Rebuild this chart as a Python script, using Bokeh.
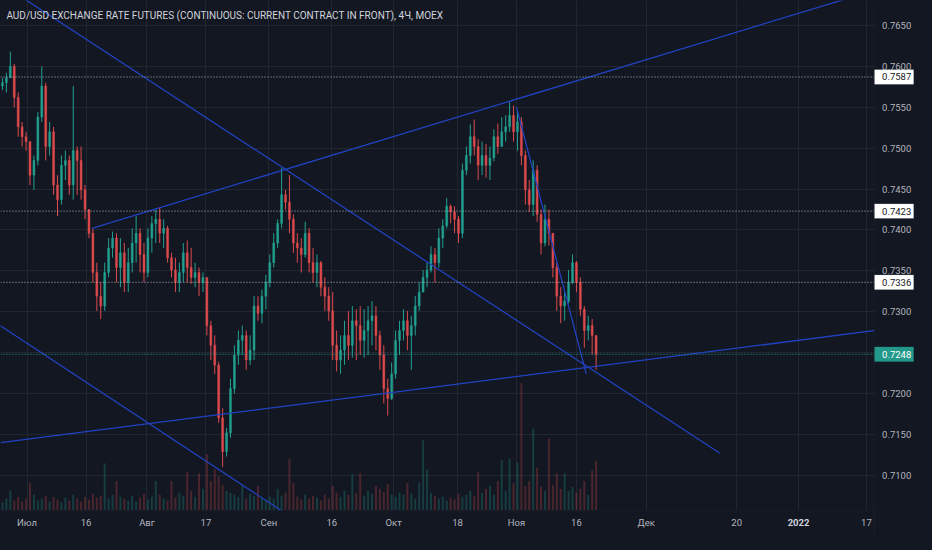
from bokeh.plotting import figure
from bokeh.models import Range1d, FixedTicker, Span, Label, ColumnDataSource, Grid, BoxAnnotation
from bokeh.embed import file_html
from bokeh.resources import INLINE

title_text = "AUD/USD EXCHANGE RATE FUTURES (CONTINUOUS: CURRENT CONTRACT IN FRONT), 4Ч, MOEX"

first_open = 0.7576
high = [
    0.7586, 0.7592, 0.7618, 0.7603, 0.7568, 0.7532, 0.7520, 0.7508, 0.7491, 0.7544,
    0.7600, 0.7580, 0.7532, 0.7526, 0.7467, 0.7491, 0.7497, 0.7491, 0.7576, 0.7502,
    0.7502, 0.7455, 0.7425, 0.7402, 0.7360, 0.7336, 0.7360, 0.7390, 0.7398, 0.7396,
    0.7390, 0.7384, 0.7378, 0.7402, 0.7417, 0.7402, 0.7384, 0.7402, 0.7417, 0.7425,
    0.7428, 0.7413, 0.7405, 0.7372, 0.7366, 0.7360, 0.7384, 0.7387, 0.7378, 0.7360,
    0.7354, 0.7348, 0.7342, 0.7289, 0.7271, 0.7239, 0.7182, 0.7158, 0.7218, 0.7259,
    0.7277, 0.7283, 0.7277, 0.7271, 0.7319, 0.7319, 0.7327, 0.7345, 0.7370, 0.7396,
    0.7413, 0.7476, 0.7449, 0.7467, 0.7419, 0.7396, 0.7390, 0.7410, 0.7402, 0.7378,
    0.7370, 0.7362, 0.7342, 0.7330, 0.7324, 0.7277, 0.7271, 0.7289, 0.7301, 0.7307,
    0.7303, 0.7307, 0.7303, 0.7307, 0.7313, 0.7307, 0.7277, 0.7259, 0.7218, 0.7238,
    0.7277, 0.7289, 0.7303, 0.7301, 0.7295, 0.7319, 0.7336, 0.7351, 0.7360, 0.7380,
    0.7378, 0.7402, 0.7413, 0.7439, 0.7431, 0.7429, 0.7417, 0.7481, 0.7502, 0.7529,
    0.7535, 0.7511, 0.7508, 0.7505, 0.7502, 0.7523, 0.7530, 0.7538, 0.7540, 0.7556,
    0.7552, 0.7544, 0.7538, 0.7497, 0.7461, 0.7485, 0.7479, 0.7425, 0.7431, 0.7425,
    0.7396, 0.7360, 0.7330, 0.7324, 0.7351, 0.7370, 0.7362, 0.7342, 0.7307, 0.7295,
    0.7291, 0.7271,
]
low = [
    0.7571, 0.7568, 0.7586, 0.7550, 0.7514, 0.7502, 0.7497, 0.7455, 0.7449, 0.7479,
    0.7532, 0.7485, 0.7491, 0.7443, 0.7417, 0.7431, 0.7461, 0.7443, 0.7437, 0.7443,
    0.7437, 0.7413, 0.7390, 0.7336, 0.7301, 0.7291, 0.7301, 0.7342, 0.7366, 0.7336,
    0.7330, 0.7324, 0.7324, 0.7348, 0.7360, 0.7348, 0.7336, 0.7342, 0.7372, 0.7384,
    0.7384, 0.7378, 0.7360, 0.7342, 0.7324, 0.7324, 0.7336, 0.7336, 0.7334, 0.7330,
    0.7319, 0.7324, 0.7271, 0.7241, 0.7224, 0.7164, 0.7110, 0.7123, 0.7146, 0.7200,
    0.7235, 0.7247, 0.7229, 0.7235, 0.7241, 0.7289, 0.7286, 0.7303, 0.7330, 0.7354,
    0.7378, 0.7402, 0.7425, 0.7396, 0.7372, 0.7360, 0.7348, 0.7366, 0.7348, 0.7336,
    0.7330, 0.7319, 0.7301, 0.7289, 0.7241, 0.7227, 0.7224, 0.7235, 0.7241, 0.7244,
    0.7241, 0.7247, 0.7244, 0.7247, 0.7259, 0.7253, 0.7229, 0.7188, 0.7173, 0.7192,
    0.7218, 0.7247, 0.7265, 0.7253, 0.7229, 0.7271, 0.7301, 0.7324, 0.7330, 0.7348,
    0.7336, 0.7354, 0.7378, 0.7402, 0.7408, 0.7396, 0.7384, 0.7390, 0.7467, 0.7481,
    0.7491, 0.7461, 0.7467, 0.7464, 0.7461, 0.7484, 0.7493, 0.7502, 0.7508, 0.7520,
    0.7508, 0.7497, 0.7479, 0.7431, 0.7422, 0.7417, 0.7410, 0.7370, 0.7380, 0.7381,
    0.7342, 0.7301, 0.7286, 0.7289, 0.7310, 0.7334, 0.7324, 0.7295, 0.7256, 0.7265,
    0.7247, 0.7229,
]
close = [
    0.7580, 0.7586, 0.7600, 0.7562, 0.7526, 0.7514, 0.7508, 0.7467, 0.7485, 0.7538,
    0.7576, 0.7502, 0.7520, 0.7455, 0.7437, 0.7479, 0.7485, 0.7455, 0.7497, 0.7485,
    0.7449, 0.7425, 0.7396, 0.7348, 0.7319, 0.7307, 0.7348, 0.7378, 0.7390, 0.7354,
    0.7372, 0.7336, 0.7360, 0.7384, 0.7396, 0.7370, 0.7348, 0.7390, 0.7408, 0.7413,
    0.7396, 0.7402, 0.7366, 0.7351, 0.7336, 0.7348, 0.7372, 0.7354, 0.7342, 0.7348,
    0.7336, 0.7342, 0.7283, 0.7259, 0.7235, 0.7170, 0.7129, 0.7152, 0.7206, 0.7247,
    0.7265, 0.7271, 0.7241, 0.7253, 0.7307, 0.7298, 0.7319, 0.7336, 0.7360, 0.7384,
    0.7408, 0.7443, 0.7434, 0.7413, 0.7384, 0.7378, 0.7370, 0.7396, 0.7360, 0.7348,
    0.7360, 0.7330, 0.7319, 0.7301, 0.7259, 0.7241, 0.7253, 0.7271, 0.7259, 0.7289,
    0.7283, 0.7265, 0.7277, 0.7289, 0.7295, 0.7271, 0.7247, 0.7206, 0.7194, 0.7224,
    0.7265, 0.7277, 0.7289, 0.7271, 0.7283, 0.7307, 0.7324, 0.7342, 0.7351, 0.7370,
    0.7360, 0.7390, 0.7405, 0.7429, 0.7422, 0.7413, 0.7396, 0.7473, 0.7491, 0.7514,
    0.7502, 0.7479, 0.7491, 0.7479, 0.7488, 0.7514, 0.7502, 0.7520, 0.7526, 0.7540,
    0.7520, 0.7532, 0.7491, 0.7449, 0.7431, 0.7473, 0.7419, 0.7384, 0.7413, 0.7396,
    0.7354, 0.7319, 0.7307, 0.7313, 0.7336, 0.7360, 0.7336, 0.7303, 0.7277, 0.7283,
    0.7271, 0.7248,
]
volume = [
    8, 12, 20, 10, 14, 9, 12, 28, 16, 10,
    12, 15, 9, 14, 11, 8, 13, 10, 16, 12,
    9, 14, 11, 17, 13, 15, 48, 12, 16, 30,
    14, 12, 10, 15, 9, 13, 17, 11, 14, 30,
    16, 12, 10, 30, 13, 18, 15, 40, 20, 14,
    38, 22, 58, 30, 42, 35, 26, 20, 18, 16,
    14, 25, 12, 17, 15, 25, 13, 10, 14, 12,
    22, 15, 18, 53, 28, 14, 11, 16, 12, 15,
    13, 10, 16, 12, 25, 18, 14, 20, 16, 37,
    18, 38, 15, 20, 17, 25, 22, 19, 27, 16,
    14, 18, 16, 28, 17, 12, 28, 72, 42, 18,
    15, 12, 14, 10, 13, 11, 17, 14, 16, 20,
    15, 39, 18, 22, 25, 16, 30, 52, 20, 53,
    28, 49, 131, 25, 30, 84, 44, 24, 20, 74,
    26, 38, 22, 38, 20, 24, 18, 22, 30, 16,
    41, 51,
]

tick_pos = [6.25, 21.25, 36.75, 51.75, 67.75, 83.75, 99.5, 115.75, 130.75, 146.0,
            163.75, 186.75, 202.5, 219.75]
tick_labels = ["Июл", "16", "Авг", "17", "Сен", "16", "Окт", "18", "Ноя", "16",
               "Дек", "20", "2022", "17"]
price_ticks = [0.7100, 0.7150, 0.7200, 0.7250, 0.7300, 0.7350, 0.7400, 0.7450,
               0.7500, 0.7550, 0.7600, 0.7650]
levels = [0.7587, 0.7423, 0.7336]
last_price = 0.7248

trend_x0 = [0.0, -5.0, -0.5, 22.75, 130.75]
trend_y0 = [0.7700, 0.7297, 0.7140, 0.7402, 0.7550]
trend_x1 = [182.5, 75.0, 230.0, 230.0, 148.5]
trend_y1 = [0.7127, 0.7044, 0.7282, 0.7705, 0.7224]

BG = "#131722"
UP = "#22a090"
DOWN = "#dd4a4c"
TXT = "#b2b5be"
LINE = "#2143c2"
SEP = "#2a2e39"
FONT = "Roboto"


# layout helpers: reference-pixel position -> bar index / price
def px2x(px):
    return (px - 2) / 4.0


def px2y(py):
    return 0.76805 - py * 0.0001187


X_EDGE = px2x(889)
Y_EDGE = px2y(525)

n = len(close)
xs = list(range(n))
opens = [first_open] + close[:-1]
colors = [UP if c >= o else DOWN for o, c in zip(opens, close)]
src = ColumnDataSource(dict(x=xs, o=opens, h=high[:n], l=low[:n], c=close, v=volume[:n], col=colors))

W, H = 916, 534
p = figure(width=W, height=H, x_range=Range1d(px2x(0), px2x(932)), y_range=Range1d(px2y(550), px2y(0)),
           output_backend="svg", toolbar_location=None, x_axis_type=None, y_axis_type=None,
           background_fill_color=BG, border_fill_color=BG, min_border=0)
p.outline_line_color = None
p.extra_y_ranges = {"vol": Range1d(-25, 525)}

p.add_layout(Grid(dimension=0, ticker=FixedTicker(ticks=tick_pos), grid_line_color="#222631"))
p.add_layout(Grid(dimension=1, ticker=FixedTicker(ticks=price_ticks), grid_line_color="#222631"))

# volume
p.vbar(x="x", width=0.5, top="v", bottom=0, source=src, y_range_name="vol",
       fill_color="col", line_color=None, fill_alpha=0.28)

# candles
p.segment(x0="x", y0="h", x1="x", y1="l", source=src, line_color="col", line_width=1)
p.vbar(x="x", width=0.48, top="o", bottom="c", source=src, fill_color="col", line_color="col",
       line_width=0.5)

# trend lines
p.segment(x0=trend_x0, y0=trend_y0, x1=trend_x1, y1=trend_y1, line_color=LINE, line_width=1.25)

# horizontal levels
for lv in levels:
    p.add_layout(Span(location=lv, dimension="width", line_color="#c3c6ce",
                      line_dash="1 2", line_width=1, line_alpha=0.9))
p.add_layout(Span(location=last_price, dimension="width", line_color="#26a69a",
                  line_dash="1 2", line_width=1))

# axis panels (cover the chart outside its pane)
p.add_layout(BoxAnnotation(left=X_EDGE, right=px2x(1000), bottom=px2y(700), top=px2y(-100),
                           fill_color=BG, fill_alpha=1, line_color=SEP, line_width=1))
p.add_layout(BoxAnnotation(left=px2x(-50), right=X_EDGE, bottom=px2y(700), top=Y_EDGE,
                           fill_color=BG, fill_alpha=1, line_color=SEP, line_width=1))

# price axis labels
for t in price_ticks:
    p.add_layout(Label(x=px2x(897), y=t, text=f"{t:.4f}", text_font=FONT, text_font_size="9.5px",
                       text_color=TXT, text_baseline="middle", text_align="left"))

# time axis labels
for t, lab in zip(tick_pos, tick_labels):
    bold = lab == "2022"
    p.add_layout(Label(x=t, y=px2y(538), text=lab, text_font=FONT, text_font_size="9.5px",
                       text_font_style="bold" if bold else "normal",
                       text_color="#d1d4dc" if bold else TXT,
                       text_baseline="middle", text_align="center"))

# price boxes
for lv in levels:
    p.add_layout(BoxAnnotation(left=X_EDGE + 0.1, right=px2x(929), top=lv + 0.00088, bottom=lv - 0.00088,
                               fill_color="#ffffff", fill_alpha=1, line_color="#d1d4dc", line_width=1))
    p.add_layout(Label(x=px2x(897), y=lv, text=f"{lv:.4f}", text_font=FONT, text_font_size="9.5px",
                       text_color=BG, text_baseline="middle", text_align="left"))
p.add_layout(BoxAnnotation(left=X_EDGE + 0.1, right=px2x(929), top=last_price + 0.00088,
                           bottom=last_price - 0.00088, fill_color="#22998a", fill_alpha=1,
                           line_color="#22998a", line_width=1))
p.add_layout(Label(x=px2x(897), y=last_price, text=f"{last_price:.4f}", text_font=FONT,
                   text_font_size="9.5px", text_color="#ffffff", text_baseline="middle", text_align="left"))

# title
p.add_layout(Label(x=px2x(6), y=px2y(15), text=title_text, text_font=FONT, text_font_size="10px",
                   text_color="#d1d4dc", text_baseline="middle", text_align="left"))

html = file_html(p, INLINE)
html = html.replace("<head>", "<head><style>html,body{background:#131722;}</style>", 1)
open("out.html", "w").write(html)
